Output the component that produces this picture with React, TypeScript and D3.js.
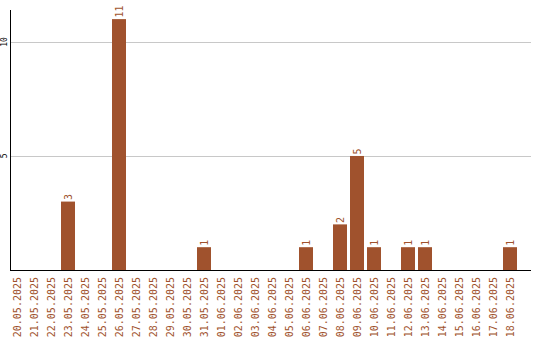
import React from "react";
import * as d3 from "d3";

const dates = [
  "20.05.2025","21.05.2025","22.05.2025","23.05.2025","24.05.2025","25.05.2025","26.05.2025","27.05.2025","28.05.2025","29.05.2025",
  "30.05.2025","31.05.2025","01.06.2025","02.06.2025","03.06.2025","04.06.2025","05.06.2025","06.06.2025","07.06.2025","08.06.2025",
  "09.06.2025","10.06.2025","11.06.2025","12.06.2025","13.06.2025","14.06.2025","15.06.2025","16.06.2025","17.06.2025","18.06.2025",
];
const counts = [0,0,0,3,0,0,11,0,0,0, 0,1,0,0,0,0,0,1,0,2, 5,1,0,1,1,0,0,0,0,1];
const yTicks = [5, 10];

const W = 540, H = 340;
const left = 10, plotRight = 531, top = 10, bottom = 270;
const color = "#A0522D";

export default function App() {
  const x = d3.scaleBand<string>().domain(dates).range([left, left + 17 * dates.length - 3]).paddingInner(3 / 17).paddingOuter(0);
  const y = d3.scaleLinear().domain([0, 11.4]).range([bottom, top]);
  const bw = x.bandwidth();
  const font = "'DejaVu Sans Mono', monospace";
  return (
    <svg width={W} height={H} style={{ position: "absolute", left: 0, top: 0 }}>
      {yTicks.map((t) => (
        <g key={t}>
          <line x1={left} x2={plotRight} y1={Math.round(y(t)) + 0.5} y2={Math.round(y(t)) + 0.5} stroke="#c8c8c8" strokeWidth={1} />
          <text transform={`translate(${left - 6},${y(t)}) rotate(-90)`} textAnchor="middle" dy="0.35em" fontFamily={font} fontSize={8} fill="#000">{t}</text>
        </g>
      ))}
      {dates.map((d, i) => {
        const bx = Math.round(x(d) as number);
        const cx = bx + bw / 2;
        return (
          <g key={d}>
            {counts[i] > 0 && (
              <>
                <rect x={bx} y={y(counts[i])} width={bw} height={bottom - y(counts[i])} fill={color} />
                <text transform={`translate(${cx},${y(counts[i]) - 1.5}) rotate(-90)`} textAnchor="start" dy="0.35em" fontFamily={font} fontSize={10} fill={color}>{counts[i]}</text>
              </>
            )}
            <text transform={`translate(${cx},${bottom + 7}) rotate(-90)`} textAnchor="end" dy="0.35em" fontFamily={font} fontSize={10} fill={color}>{d}</text>
          </g>
        );
      })}
      <line x1={left + 0.5} x2={left + 0.5} y1={top} y2={bottom + 1} stroke="#000" strokeWidth={1} />
      <line x1={left} x2={plotRight} y1={bottom + 0.5} y2={bottom + 0.5} stroke="#000" strokeWidth={1} />
    </svg>
  );
}
